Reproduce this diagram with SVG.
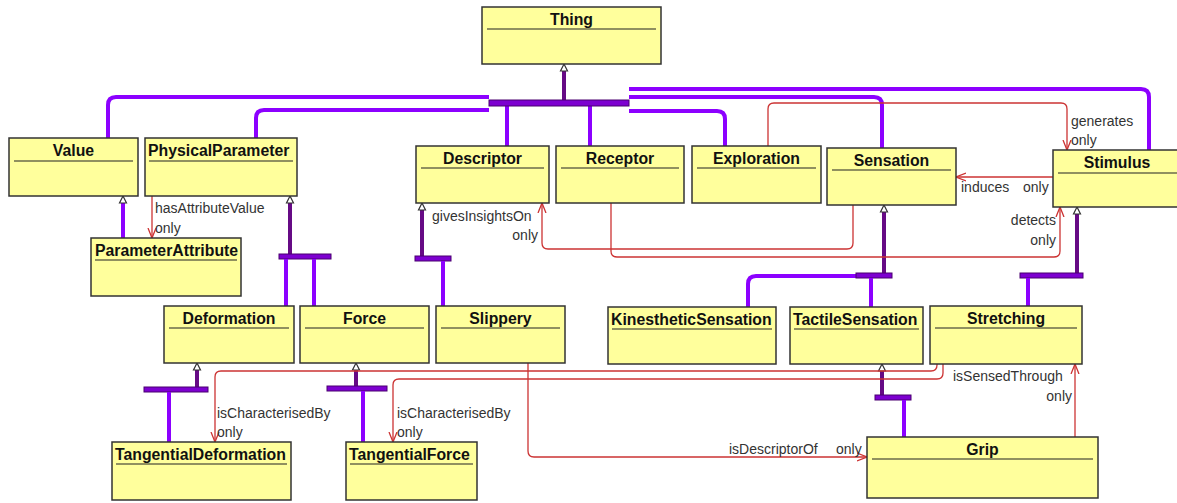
<svg xmlns="http://www.w3.org/2000/svg" width="1177" height="503" viewBox="0 0 1177 503">
<style>
.box{fill:#ffff9c;stroke:#333;stroke-width:1.5}
.hl{stroke:#222;stroke-width:1.2}
.t{font-family:"Liberation Sans",Arial,sans-serif;font-weight:bold;font-size:15.8px;fill:#111;text-anchor:middle}
.tl{font-family:"Liberation Sans",Arial,sans-serif;font-weight:bold;font-size:15.8px;fill:#111}
.lb{font-family:"Liberation Sans",Arial,sans-serif;font-size:14px;fill:#333}
.p{fill:none;stroke:#8c00ff;stroke-width:4}
.s{fill:none;stroke:#660a85;stroke-width:4}
.bar{fill:#7d00d0;stroke:#4a0070;stroke-width:1}
.tri{fill:#fff;stroke:#333;stroke-width:1.2}
.r{fill:none;stroke:#cc3333;stroke-width:1.3;marker-end:url(#oa)}
</style>
<defs>
<marker id="oa" viewBox="0 0 10 10" refX="10" refY="5" markerWidth="10" markerHeight="10" markerUnits="userSpaceOnUse" orient="auto">
<path d="M0,1 L10,5 L0,9" fill="none" stroke="#cc3333" stroke-width="1.3"/>
</marker>
<path id="up" d="M0,0 L3.5,7 L-3.5,7 Z"/>
</defs>

<g id="connectors">
<!-- Thing hierarchy -->
<path class="p" d="M489,97 H116 Q108,97 108,105 V138"/>
<path class="p" d="M489,110 H264 Q256,110 256,118 V138"/>
<path class="p" d="M507,103 V146"/>
<path class="p" d="M590,103 V146"/>
<path class="p" d="M629,111 H717 Q725,111 725,119 V146"/>
<path class="p" d="M629,97 H874 Q882,97 882,105 V148"/>
<path class="p" d="M629,89 H1141 Q1149,89 1149,97 V150"/>
<path class="s" d="M564,71 V100"/>
<rect class="bar" x="489" y="100" width="140" height="6"/>
<use href="#up" class="tri" x="564" y="64"/>

<!-- Value <- ParameterAttribute -->
<path class="p" d="M123,203 V238"/>
<use href="#up" class="tri" x="123" y="196"/>

<!-- PhysicalParameter <- Deformation, Force -->
<path class="s" d="M290,203 V254"/>
<rect class="bar" x="279" y="254" width="52" height="5"/>
<path class="p" d="M286,259 V306"/>
<path class="p" d="M314,259 V306"/>
<use href="#up" class="tri" x="290" y="196"/>

<!-- Descriptor <- Slippery -->
<path class="s" d="M422,210 V256"/>
<rect class="bar" x="415" y="256" width="36" height="5"/>
<path class="p" d="M443,261 V306"/>
<use href="#up" class="tri" x="422" y="203"/>

<!-- Sensation <- Kinesthetic, Tactile -->
<path class="s" d="M884,212 V273"/>
<path class="p" d="M858,276 H756 Q748,276 748,284 V307"/>
<rect class="bar" x="856" y="273" width="36" height="5"/>
<path class="p" d="M871,278 V307"/>
<use href="#up" class="tri" x="884" y="205"/>

<!-- Stimulus <- Stretching -->
<path class="s" d="M1077,214 V273"/>
<rect class="bar" x="1020" y="273" width="63" height="5"/>
<path class="p" d="M1028,278 V306"/>
<use href="#up" class="tri" x="1077" y="207"/>

<!-- TactileSensation <- Grip -->
<path class="s" d="M882,371 V395"/>
<rect class="bar" x="875" y="395" width="36" height="5"/>
<path class="p" d="M904,400 V437"/>
<use href="#up" class="tri" x="882" y="364"/>

<!-- Deformation <- TangentialDeformation -->
<path class="s" d="M197,370 V387"/>
<rect class="bar" x="144" y="387" width="64" height="5"/>
<path class="p" d="M169,392 V442"/>
<use href="#up" class="tri" x="197" y="363"/>

<!-- Force <- TangentialForce -->
<path class="s" d="M356,370 V386"/>
<rect class="bar" x="327" y="386" width="60" height="5"/>
<path class="p" d="M363,391 V442"/>
<use href="#up" class="tri" x="356" y="363"/>

<!-- object properties -->
<path class="r" d="M152,196 V238"/>
<path class="r" d="M853,205 V243 Q853,249 847,249 H548 Q542,249 542,243 V203"/>
<path class="r" d="M611,203 V251 Q611,257 617,257 H1054 Q1060,257 1060,251 V207"/>
<path class="r" d="M768,146 V109 Q768,103 774,103 H1061 Q1067,103 1067,109 V150"/>
<path class="r" d="M1053,177 H956"/>
<path class="r" d="M937,364 V365 Q937,371 931,371 H221 Q215,371 215,377 V442"/>
<path class="r" d="M943,364 V373 Q943,379 937,379 H399 Q393,379 393,385 V442"/>
<path class="r" d="M528,363 V451 Q528,457 534,457 H867"/>
<path class="r" d="M1075,437 V364"/>

<text class="lb" x="155" y="213">hasAttributeValue</text>
<text class="lb" x="155" y="233">only</text>
<text class="lb" x="432" y="221">givesInsightsOn</text>
<text class="lb" x="538" y="240" text-anchor="end">only</text>
<text class="lb" x="1071" y="126">generates</text>
<text class="lb" x="1071" y="145">only</text>
<text class="lb" x="961" y="192">induces</text>
<text class="lb" x="1023" y="192">only</text>
<text class="lb" x="1056" y="225" text-anchor="end">detects</text>
<text class="lb" x="1056" y="245" text-anchor="end">only</text>
<text class="lb" x="217" y="418">isCharacterisedBy</text>
<text class="lb" x="217" y="437">only</text>
<text class="lb" x="397" y="418">isCharacterisedBy</text>
<text class="lb" x="397" y="437">only</text>
<text class="lb" x="953" y="381">isSensedThrough</text>
<text class="lb" x="1072" y="401" text-anchor="end">only</text>
<text class="lb" x="729" y="454">isDescriptorOf</text>
<text class="lb" x="836" y="454">only</text>
</g>

<g id="Thing"><rect class="box" x="482" y="7" width="179" height="57"/><line class="hl" x1="487" y1="29" x2="656" y2="29"/><text class="t" x="571.5" y="25">Thing</text></g>
<g id="Value"><rect class="box" x="9" y="138" width="129" height="58"/><line class="hl" x1="14" y1="161" x2="133" y2="161"/><text class="t" x="73.5" y="156">Value</text></g>
<g id="PhysicalParameter"><rect class="box" x="145" y="138" width="152" height="58"/><line class="hl" x1="149" y1="161" x2="293" y2="161"/><text class="tl" x="148" y="156">PhysicalParameter</text></g>
<g id="ParameterAttribute"><rect class="box" x="91" y="238" width="150" height="58"/><line class="hl" x1="95" y1="260" x2="237" y2="260"/><text class="tl" x="95" y="256">ParameterAttribute</text></g>
<g id="Descriptor"><rect class="box" x="416" y="146" width="133" height="57"/><line class="hl" x1="421" y1="168" x2="544" y2="168"/><text class="t" x="482.5" y="164">Descriptor</text></g>
<g id="Receptor"><rect class="box" x="556" y="146" width="128" height="57"/><line class="hl" x1="561" y1="168" x2="679" y2="168"/><text class="t" x="620" y="164">Receptor</text></g>
<g id="Exploration"><rect class="box" x="692" y="146" width="129" height="57"/><line class="hl" x1="697" y1="168" x2="816" y2="168"/><text class="t" x="756.5" y="164">Exploration</text></g>
<g id="Sensation"><rect class="box" x="827" y="148" width="129" height="57"/><line class="hl" x1="832" y1="170" x2="951" y2="170"/><text class="t" x="891.5" y="166">Sensation</text></g>
<g id="Stimulus"><rect class="box" x="1053" y="150" width="130" height="57"/><line class="hl" x1="1058" y1="173" x2="1177" y2="173"/><text class="t" x="1117" y="168">Stimulus</text></g>
<g id="Deformation"><rect class="box" x="164" y="306" width="130" height="57"/><line class="hl" x1="169" y1="328" x2="289" y2="328"/><text class="t" x="229" y="324">Deformation</text></g>
<g id="Force"><rect class="box" x="300" y="306" width="129" height="57"/><line class="hl" x1="305" y1="328" x2="424" y2="328"/><text class="t" x="364.5" y="324">Force</text></g>
<g id="Slippery"><rect class="box" x="436" y="306" width="129" height="57"/><line class="hl" x1="441" y1="328" x2="560" y2="328"/><text class="t" x="500.5" y="324">Slippery</text></g>
<g id="KinestheticSensation"><rect class="box" x="608" y="307" width="168" height="57"/><line class="hl" x1="612" y1="329" x2="772" y2="329"/><text class="tl" x="611" y="325">KinestheticSensation</text></g>
<g id="TactileSensation"><rect class="box" x="790" y="307" width="133" height="57"/><line class="hl" x1="794" y1="329" x2="919" y2="329"/><text class="tl" x="793" y="325">TactileSensation</text></g>
<g id="Stretching"><rect class="box" x="930" y="306" width="152" height="58"/><line class="hl" x1="935" y1="328" x2="1077" y2="328"/><text class="t" x="1006" y="324">Stretching</text></g>
<g id="TangentialDeformation"><rect class="box" x="112" y="442" width="179" height="58"/><line class="hl" x1="116" y1="464" x2="287" y2="464"/><text class="tl" x="115" y="460">TangentialDeformation</text></g>
<g id="TangentialForce"><rect class="box" x="346" y="442" width="131" height="58"/><line class="hl" x1="350" y1="464" x2="473" y2="464"/><text class="tl" x="349" y="460">TangentialForce</text></g>
<g id="Grip"><rect class="box" x="867" y="437" width="231" height="61"/><line class="hl" x1="872" y1="459" x2="1093" y2="459"/><text class="t" x="982.5" y="455">Grip</text></g>
</svg>
